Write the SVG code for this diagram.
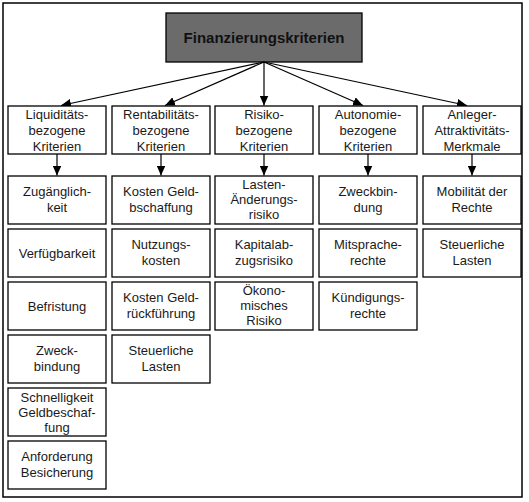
<svg xmlns="http://www.w3.org/2000/svg" width="529" height="502" viewBox="0 0 529 502">
<defs>
<marker id="ah" markerUnits="userSpaceOnUse" markerWidth="10" markerHeight="9" refX="10" refY="4.5" orient="auto">
<path d="M0,0 L10,4.5 L0,9 z" fill="#000"/>
</marker>
<style>
.box{fill:#fff;stroke:#000;stroke-width:1.3}
.top{fill:#6b6b6b;stroke:#000;stroke-width:1.3}
.t{font-family:"Liberation Sans",Arial,sans-serif;font-size:13px;fill:#1a1a1a;text-anchor:middle}
.tb{font-family:"Liberation Sans",Arial,sans-serif;font-size:15px;font-weight:bold;fill:#111;text-anchor:middle}
.c{stroke:#000;stroke-width:1.2;fill:none;marker-end:url(#ah)}
</style>
</defs>
<rect x="0" y="0" width="529" height="502" fill="#fff"/>
<rect x="3" y="3" width="519" height="494" fill="none" stroke="#000" stroke-width="1.5"/>

<g id="root">
<rect class="top" x="166" y="13" width="196" height="49"/>
<text class="tb" x="264" y="43">Finanzierungskriterien</text>
</g>

<g id="connectors">
<line class="c" x1="264" y1="62" x2="61" y2="105.5"/>
<line class="c" x1="264" y1="62" x2="165" y2="105.5"/>
<line class="c" x1="264" y1="62" x2="264" y2="105.5"/>
<line class="c" x1="264" y1="62" x2="363" y2="105.5"/>
<line class="c" x1="264" y1="62" x2="467" y2="105.5"/>
<line class="c" x1="57" y1="154" x2="57" y2="175.5"/>
<line class="c" x1="161" y1="154" x2="161" y2="175.5"/>
<line class="c" x1="264" y1="154" x2="264" y2="175.5"/>
<line class="c" x1="368" y1="154" x2="368" y2="175.5"/>
<line class="c" x1="472" y1="154" x2="472" y2="175.5"/>
</g>

<g id="cat-liquiditaet">
<rect class="box" x="8" y="106" width="98" height="48"/>
<text class="t" x="57" y="118.5">Liquiditäts-</text>
<text class="t" x="57" y="134.5">bezogene</text>
<text class="t" x="57" y="150.5">Kriterien</text>
</g>
<g id="cat-rentabilitaet">
<rect class="box" x="112" y="106" width="98" height="48"/>
<text class="t" x="161" y="118.5">Rentabilitäts-</text>
<text class="t" x="161" y="134.5">bezogene</text>
<text class="t" x="161" y="150.5">Kriterien</text>
</g>
<g id="cat-risiko">
<rect class="box" x="215" y="106" width="98" height="48"/>
<text class="t" x="264" y="118.5">Risiko-</text>
<text class="t" x="264" y="134.5">bezogene</text>
<text class="t" x="264" y="150.5">Kriterien</text>
</g>
<g id="cat-autonomie">
<rect class="box" x="319" y="106" width="98" height="48"/>
<text class="t" x="368" y="118.5">Autonomie-</text>
<text class="t" x="368" y="134.5">bezogene</text>
<text class="t" x="368" y="150.5">Kriterien</text>
</g>
<g id="cat-anleger">
<rect class="box" x="423" y="106" width="98" height="48"/>
<text class="t" x="472" y="118.5">Anleger-</text>
<text class="t" x="472" y="134.5">Attraktivitäts-</text>
<text class="t" x="472" y="150.5">Merkmale</text>
</g>

<!-- column 1 -->
<g id="zugaenglichkeit">
<rect class="box" x="8" y="176" width="98" height="48"/>
<text class="t" x="57" y="195.5">Zugänglich-</text>
<text class="t" x="57" y="212">keit</text>
</g>
<g id="verfuegbarkeit">
<rect class="box" x="8" y="229" width="98" height="48"/>
<text class="t" x="57" y="257.5">Verfügbarkeit</text>
</g>
<g id="befristung">
<rect class="box" x="8" y="282" width="98" height="48"/>
<text class="t" x="57" y="310.5">Befristung</text>
</g>
<g id="zweckbindung1">
<rect class="box" x="8" y="335" width="98" height="48"/>
<text class="t" x="57" y="354.5">Zweck-</text>
<text class="t" x="57" y="371">bindung</text>
</g>
<g id="schnelligkeit">
<rect class="box" x="8" y="388" width="98" height="48"/>
<text class="t" x="57" y="401.5">Schnelligkeit</text>
<text class="t" x="57" y="416.5">Geldbeschaf-</text>
<text class="t" x="57" y="431.5">fung</text>
</g>
<g id="anforderung">
<rect class="box" x="8" y="441" width="98" height="48"/>
<text class="t" x="57" y="460.5">Anforderung</text>
<text class="t" x="57" y="477">Besicherung</text>
</g>

<!-- column 2 -->
<g id="kosten-geldbeschaffung">
<rect class="box" x="112" y="176" width="98" height="48"/>
<text class="t" x="161" y="195.5">Kosten Geld-</text>
<text class="t" x="161" y="212">bschaffung</text>
</g>
<g id="nutzungskosten">
<rect class="box" x="112" y="229" width="98" height="48"/>
<text class="t" x="161" y="248.5">Nutzungs-</text>
<text class="t" x="161" y="265">kosten</text>
</g>
<g id="kosten-rueckfuehrung">
<rect class="box" x="112" y="282" width="98" height="48"/>
<text class="t" x="161" y="301.5">Kosten Geld-</text>
<text class="t" x="161" y="318">rückführung</text>
</g>
<g id="steuerliche-lasten1">
<rect class="box" x="112" y="335" width="98" height="48"/>
<text class="t" x="161" y="354.5">Steuerliche</text>
<text class="t" x="161" y="371">Lasten</text>
</g>

<!-- column 3 -->
<g id="lasten-aenderungsrisiko">
<rect class="box" x="215" y="176" width="98" height="48"/>
<text class="t" x="264" y="189">Lasten-</text>
<text class="t" x="264" y="204">Änderungs-</text>
<text class="t" x="264" y="219">risiko</text>
</g>
<g id="kapitalabzugsrisiko">
<rect class="box" x="215" y="229" width="98" height="48"/>
<text class="t" x="264" y="248.5">Kapitalab-</text>
<text class="t" x="264" y="265">zugsrisiko</text>
</g>
<g id="oekonomisches-risiko">
<rect class="box" x="215" y="282" width="98" height="48"/>
<text class="t" x="264" y="295">Ökono-</text>
<text class="t" x="264" y="310">misches</text>
<text class="t" x="264" y="325">Risiko</text>
</g>

<!-- column 4 -->
<g id="zweckbindung2">
<rect class="box" x="319" y="176" width="98" height="48"/>
<text class="t" x="368" y="195.5">Zweckbin-</text>
<text class="t" x="368" y="212">dung</text>
</g>
<g id="mitspracherechte">
<rect class="box" x="319" y="229" width="98" height="48"/>
<text class="t" x="368" y="248.5">Mitsprache-</text>
<text class="t" x="368" y="265">rechte</text>
</g>
<g id="kuendigungsrechte">
<rect class="box" x="319" y="282" width="98" height="48"/>
<text class="t" x="368" y="301.5">Kündigungs-</text>
<text class="t" x="368" y="318">rechte</text>
</g>

<!-- column 5 -->
<g id="mobilitaet">
<rect class="box" x="423" y="176" width="98" height="48"/>
<text class="t" x="472" y="195.5">Mobilität der</text>
<text class="t" x="472" y="212">Rechte</text>
</g>
<g id="steuerliche-lasten2">
<rect class="box" x="423" y="229" width="98" height="48"/>
<text class="t" x="472" y="248.5">Steuerliche</text>
<text class="t" x="472" y="265">Lasten</text>
</g>
</svg>
